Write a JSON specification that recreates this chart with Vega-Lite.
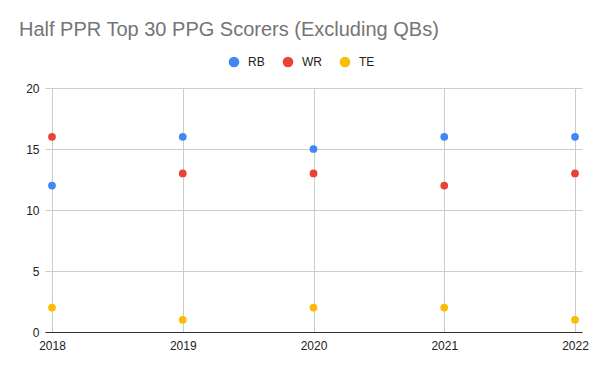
{
  "$schema": "https://vega.github.io/schema/vega-lite/v6.json",
  "autosize": "none",
  "padding": {"left": 45, "top": 88, "right": 18, "bottom": 39},
  "width": 537,
  "height": 244,
  "background": "white",
  "title": {
    "text": "Half PPR Top 30 PPG Scorers (Excluding QBs)",
    "anchor": "start",
    "frame": "group",
    "orient": "top",
    "baseline": "alphabetic",
    "offset": 0,
    "dx": -26,
    "font": "Liberation Sans",
    "fontSize": 20,
    "fontWeight": "normal",
    "color": "#757575"
  },
  "config": {
    "view": {"stroke": null},
    "font": "Liberation Sans"
  },
  "data": {
    "values": [
      {"year": 2018, "position": "RB", "ppg": 12},
      {"year": 2019, "position": "RB", "ppg": 16},
      {"year": 2020, "position": "RB", "ppg": 15},
      {"year": 2021, "position": "RB", "ppg": 16},
      {"year": 2022, "position": "RB", "ppg": 16},
      {"year": 2018, "position": "WR", "ppg": 16},
      {"year": 2019, "position": "WR", "ppg": 13},
      {"year": 2020, "position": "WR", "ppg": 13},
      {"year": 2021, "position": "WR", "ppg": 12},
      {"year": 2022, "position": "WR", "ppg": 13},
      {"year": 2018, "position": "TE", "ppg": 2},
      {"year": 2019, "position": "TE", "ppg": 1},
      {"year": 2020, "position": "TE", "ppg": 2},
      {"year": 2021, "position": "TE", "ppg": 2},
      {"year": 2022, "position": "TE", "ppg": 1}
    ]
  },
  "mark": {"type": "point", "filled": true, "opacity": 1, "size": 60},
  "encoding": {
    "x": {
      "field": "year",
      "type": "quantitative",
      "scale": {"domain": [2017.9465, 2022.0535], "nice": false, "zero": false},
      "axis": {
        "title": null,
        "values": [2018, 2019, 2020, 2021, 2022],
        "format": "d",
        "grid": true,
        "gridColor": "#cccccc",
        "ticks": false,
        "domain": true,
        "domainColor": "#333333",
        "domainWidth": 1,
        "labelPadding": 8,
        "labelFontSize": 12,
        "labelColor": "#222222",
        "labelFont": "Liberation Sans"
      }
    },
    "y": {
      "field": "ppg",
      "type": "quantitative",
      "scale": {"domain": [0, 20], "nice": false},
      "axis": {
        "title": null,
        "values": [0, 5, 10, 15, 20],
        "grid": true,
        "gridColor": "#cccccc",
        "ticks": false,
        "domain": false,
        "labelPadding": 6,
        "labelFontSize": 12,
        "labelColor": "#222222",
        "labelFont": "Liberation Sans"
      }
    },
    "color": {
      "field": "position",
      "type": "nominal",
      "scale": {"domain": ["RB", "WR", "TE"], "range": ["#4285F4", "#EA4335", "#FBBC04"]},
      "legend": {
        "title": null,
        "orient": "none",
        "direction": "horizontal",
        "legendX": 183,
        "legendY": -32,
        "symbolType": "circle",
        "symbolSize": 113,
        "symbolStrokeWidth": 0,
        "labelFontSize": 12,
        "labelColor": "#222222",
        "labelOffset": 8,
        "columnPadding": 17,
        "labelFont": "Liberation Sans"
      }
    }
  }
}
